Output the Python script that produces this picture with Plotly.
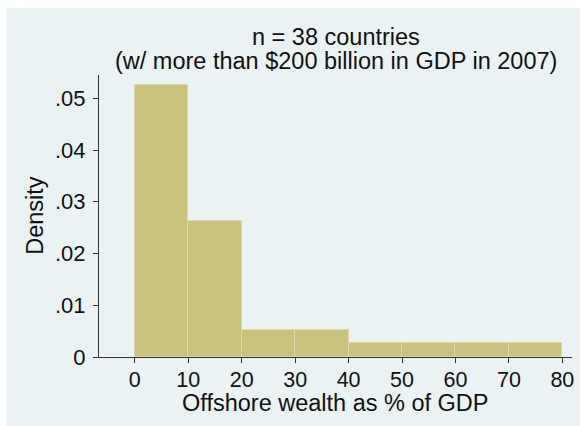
import plotly.graph_objects as go

# Data
bin_left = [0, 10, 20, 30, 40, 50, 60, 70]
bin_width = 10
density = [0.0526, 0.0263, 0.00526, 0.00526, 0.00263, 0.00263, 0.00263, 0.00263]
x_ticks = [0, 10, 20, 30, 40, 50, 60, 70, 80]
y_ticks = [0, 0.01, 0.02, 0.03, 0.04, 0.05]
y_ticklabels = ["0", ".01", ".02", ".03", ".04", ".05"]
title_lines = ["n = 38 countries", "(w/ more than $200 billion in GDP in 2007)"]
x_title = "Offshore wealth as % of GDP"
y_title = "Density"

W, H = 583, 426
L, R, T, B = 99, 9, 75, 69
pw, ph = W - L - R, H - T - B

def px_x(px):
    return (px - L) / pw

def px_y(py):
    return (H - B - py) / ph

FONT = "Liberation Sans, Arial, sans-serif"
TXT = "#111"
fig = go.Figure()
fig.add_trace(go.Bar(
    x=[b + bin_width / 2 for b in bin_left],
    y=density,
    width=[bin_width] * len(bin_left),
    marker=dict(color="#C9C27F", line=dict(color="#DDD7A8", width=1)),
    hoverinfo="skip",
))

bg = "#EAF2F3"
fig.update_layout(
    width=W, height=H,
    margin=dict(l=L, r=R, t=T, b=B, pad=0),
    paper_bgcolor="white",
    plot_bgcolor="white",
    showlegend=False,
    bargap=0,
    font=dict(family=FONT, size=22, color=TXT),
    shapes=[dict(type="rect", xref="paper", yref="paper", layer="below",
                 x0=px_x(6), x1=px_x(582), y0=px_y(426), y1=px_y(8),
                 fillcolor=bg, line=dict(width=0))],
)
fig.update_xaxes(
    range=[-6.709, 81.81], tickvals=x_ticks, ticks="outside", ticklen=5,
    tickcolor="#333", tickwidth=1, showline=True, linecolor="#333", linewidth=1,
    showgrid=False, zeroline=False, tickfont=dict(size=21.5, family=FONT, color=TXT),
    ticklabelstandoff=-2,
)
fig.update_yaxes(
    range=[0, 0.0545], tickvals=y_ticks, ticktext=y_ticklabels, ticks="outside",
    ticklen=5, tickcolor="#333", tickwidth=1, showline=True, linecolor="#333",
    linewidth=1, showgrid=True, gridcolor=bg, gridwidth=1, zeroline=False,
    tickfont=dict(size=22, family=FONT, color=TXT), ticklabelstandoff=3,
)

TS = 23.5
anns = [
    dict(text=title_lines[0], x=px_x(336.5), y=px_y(37), font=dict(size=TS)),
    dict(text=title_lines[1], x=px_x(336.5), y=px_y(61), font=dict(size=TS)),
    dict(text=x_title, x=px_x(336.5), y=px_y(403), font=dict(size=TS), borderpad=0),
    dict(text=y_title, x=px_x(34), y=px_y(215.5), font=dict(size=TS), textangle=-90),
]
for a in anns:
    a.update(xref="paper", yref="paper", showarrow=False, xanchor="center",
             yanchor="middle")
    a["font"].update(family=FONT, color=TXT)
    fig.add_annotation(**a)

fig.write_html("out.html")
